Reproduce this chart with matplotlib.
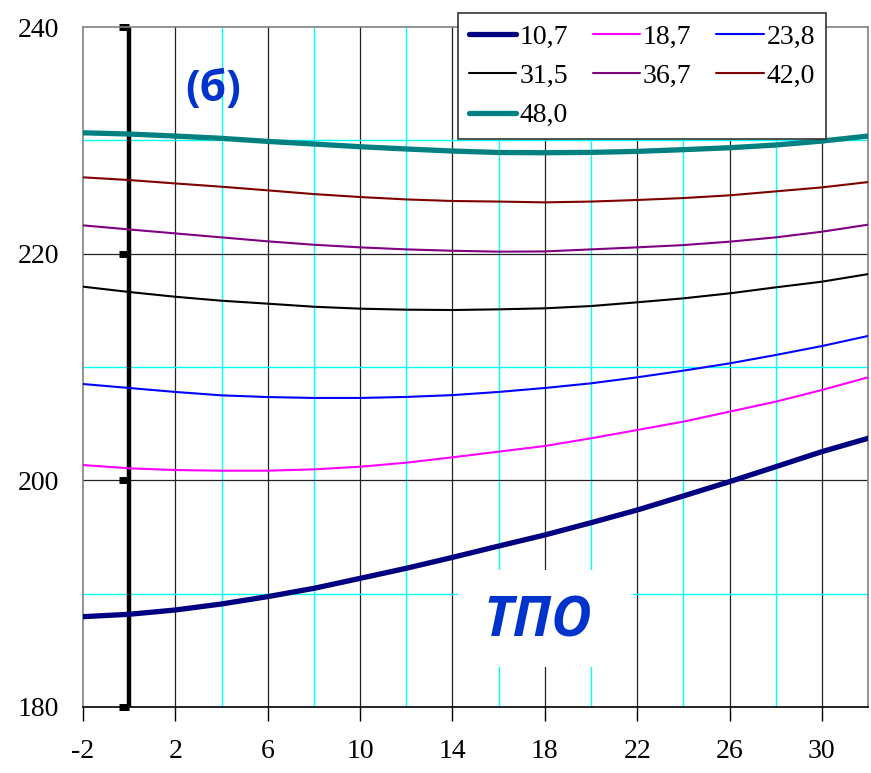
import matplotlib.pyplot as plt
from matplotlib.patches import Rectangle

# temperature axis and curves, one per legend value
x = [-2, 0, 2, 4, 6, 8, 10, 12, 14, 16, 18, 20, 22, 24, 26, 28, 30, 32]
labels = ["10,7", "18,7", "23,8", "31,5", "36,7", "42,0", "48,0"]
y_107 = [187.97, 188.18, 188.56, 189.09, 189.74, 190.47, 191.35, 192.24, 193.2,
         194.2, 195.18, 196.26, 197.38, 198.62, 199.88, 201.2, 202.53, 203.71]
y_187 = [201.35, 201.06, 200.91, 200.85, 200.85, 200.97, 201.2, 201.56, 202.03,
         202.53, 203.03, 203.71, 204.44, 205.18, 206.06, 206.94, 207.97, 209.09]
y_238 = [208.5, 208.15, 207.8, 207.5, 207.35, 207.27, 207.27, 207.36, 207.52,
         207.8, 208.15, 208.56, 209.09, 209.68, 210.32, 211.06, 211.85, 212.74]
y_315 = [217.09, 216.62, 216.2, 215.85, 215.59, 215.32, 215.15, 215.06, 215.03,
         215.09, 215.18, 215.38, 215.71, 216.06, 216.5, 217.03, 217.53, 218.2]
y_367 = [222.5, 222.14, 221.79, 221.44, 221.09, 220.79, 220.56, 220.38, 220.26,
         220.18, 220.2, 220.38, 220.56, 220.76, 221.06, 221.44, 221.94, 222.56]
y_420 = [226.74, 226.5, 226.2, 225.91, 225.59, 225.26, 225.0, 224.79, 224.65,
         224.6, 224.53, 224.6, 224.74, 224.91, 225.15, 225.5, 225.85, 226.32]
y_480 = [230.67, 230.56, 230.38, 230.18, 229.91, 229.68, 229.44, 229.24, 229.06,
         228.93, 228.91, 228.94, 229.03, 229.18, 229.35, 229.59, 229.94, 230.38]
series = [y_107, y_187, y_238, y_315, y_367, y_420, y_480]
colors = ['#000080', '#ff00ff', '#0000ff', '#000000', '#800080', '#800000', '#008080']
widths = [3.8, 1.5, 1.5, 1.5, 1.5, 1.5, 3.8]

xticks = [-2, 2, 6, 10, 14, 18, 22, 26, 30]
yticks = [180, 200, 220, 240]

fig = plt.figure(figsize=(8.71, 7.73), dpi=100)
ax = fig.add_axes([0.0953, 0.0854, 0.9013, 0.8796])

ax.set_xlim(-2, 32)
ax.set_ylim(180, 240)

# grid: black every 4 from -2, cyan in between
for gx in range(2, 32, 4):
    ax.axvline(gx, color='#222222', lw=0.9, zorder=1)
for gx in range(4, 32, 4):
    ax.axvline(gx, color='#00ffff', lw=1.0, zorder=1)
for gy in [200, 220]:
    ax.axhline(gy, color='#222222', lw=0.9, zorder=1)
for gy in [190, 210, 230]:
    ax.axhline(gy, color='#00ffff', lw=1.0, zorder=1)

# heavy vertical line at zero with its own ticks
ax.axvline(0, color='black', lw=3.2, zorder=2)
ax.plot([0] * len(yticks), yticks, ls='none', marker=0, ms=7, mew=5,
        color='black', zorder=2, clip_on=False)

lines = []
for ys, c, w, lab in zip(series, colors, widths, labels):
    ln, = ax.plot(x, ys, color=c, lw=w, label=lab, zorder=3,
                  solid_capstyle='round', solid_joinstyle='round')
    lines.append(ln)

for side in ['left', 'top', 'right']:
    ax.spines[side].set_color('#808080')
    ax.spines[side].set_linewidth(1.2)
ax.spines['bottom'].set_color('black')
ax.spines['bottom'].set_linewidth(1.2)

serif = 'Liberation Serif'
ax.set_xticks(xticks)
ax.set_xticklabels([str(t) for t in xticks], fontfamily=serif, fontsize=20)
ax.set_yticks(yticks)
ax.set_yticklabels([str(t) for t in yticks], fontfamily=serif, fontsize=20)
ax.tick_params(axis='x', direction='out', length=10, width=1, pad=13, color='black')
ax.tick_params(axis='y', length=0, pad=17)

# legend filled row by row: reorder for matplotlib's column filling
order = [0, 3, 6, 1, 4, 2, 5]
leg = fig.legend([lines[i] for i in order], [labels[i] for i in order],
                 ncol=3, loc='upper left', bbox_to_anchor=(458 / 871, 1 - 13 / 773),
                 prop={'family': serif, 'size': 20}, frameon=True, fancybox=False,
                 edgecolor='#333333', handlelength=1.7, handletextpad=0.1,
                 columnspacing=0.9, labelspacing=0.5, borderpad=0.4,
                 borderaxespad=0)
leg.get_frame().set_linewidth(1.2)
leg.get_frame().set_alpha(1)

ax.text(3.65, 234.5, "(б)", color='#0033cc', fontsize=31, fontweight='bold',
        fontfamily='Open Sans', ha='center', va='center', zorder=4)

# white panel behind the label, covering the grid
ax.add_patch(Rectangle((0.4777, 0.0588), 0.2229, 0.1427, transform=ax.transAxes,
                       facecolor='white', edgecolor='none', zorder=1.5))
ax.text(17.7, 187.5, "ТПО", color='#0033cc', fontsize=40, fontweight='bold',
        fontstyle='italic', fontfamily='Open Sans', ha='center', va='center',
        zorder=4)

fig.savefig('out.png', dpi=100)
